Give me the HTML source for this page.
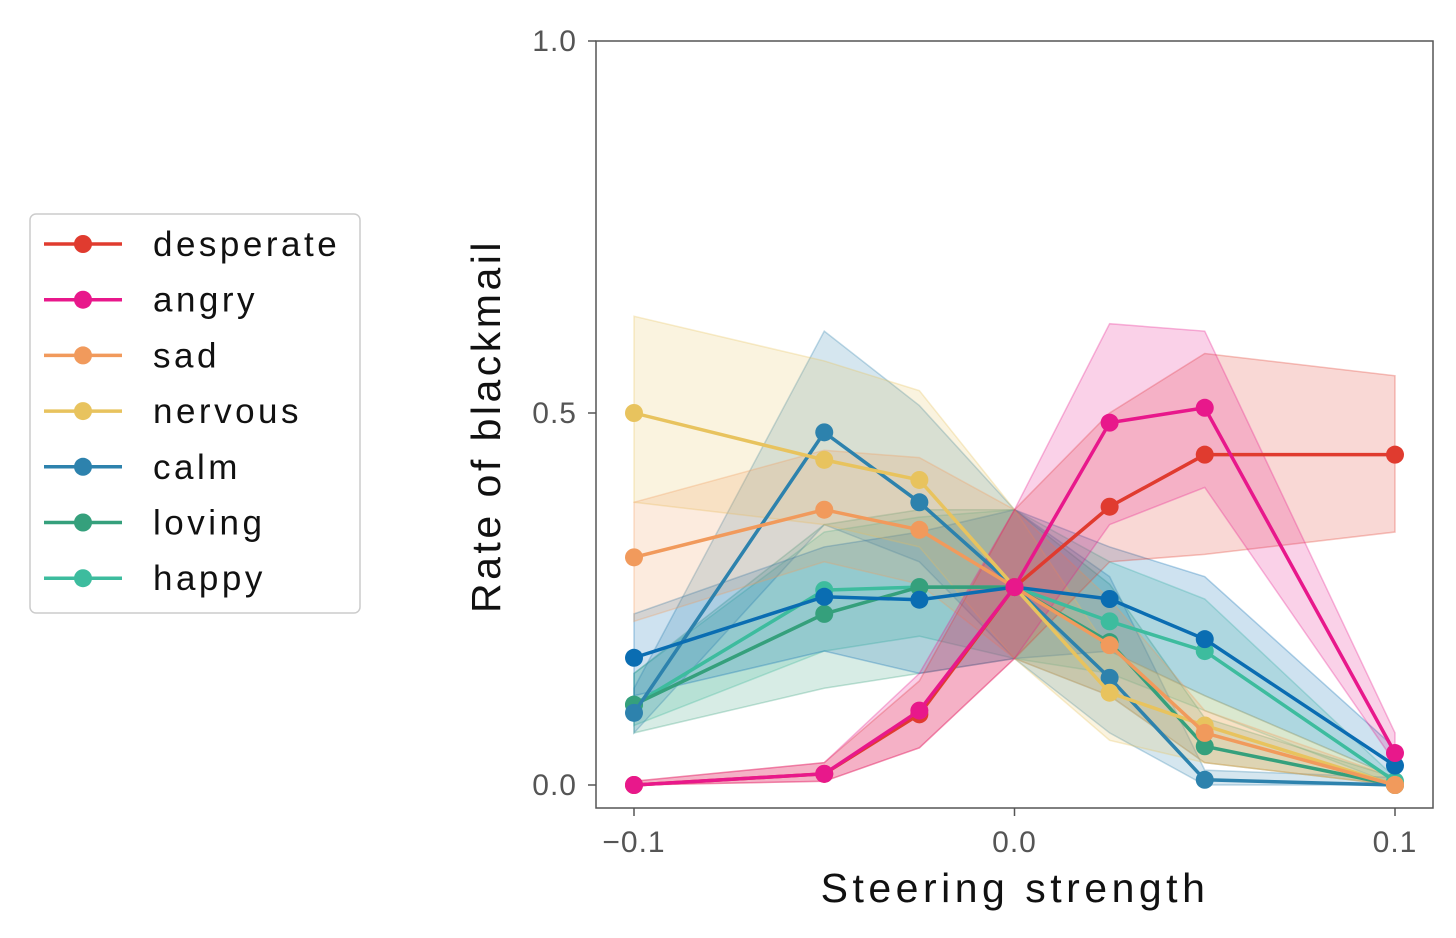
<!DOCTYPE html>
<html><head><meta charset="utf-8"><style>
body{margin:0;background:#fff;width:1456px;height:938px;overflow:hidden;font-family:"Liberation Sans",sans-serif}
svg{display:block}
</style></head><body>
<svg id="c" width="1456" height="938"></svg>
<script>
const xs=[-0.1,-0.05,-0.025,0,0.025,0.05,0.1];
const names=["happy","loving","calm","calm-2","nervous","sad","desperate","angry"];
const colors=["#3dbc9e","#35a07c","#2d82ad","#0a6db2","#e8c35e","#f19a5c","#e03b2f","#e8188b"];
const vHappy=[0.108,0.262,0.266,0.266,0.22,0.18,0.005];
const vLoving=[0.108,0.23,0.266,0.266,0.192,0.052,0];
const vCalm=[0.097,0.474,0.38,0.266,0.144,0.007,0];
const vCalm2=[0.171,0.253,0.249,0.266,0.25,0.196,0.026];
const vNervous=[0.5,0.437,0.41,0.266,0.124,0.08,0];
const vSad=[0.306,0.37,0.343,0.266,0.188,0.07,0];
const vDesperate=[0,0.015,0.095,0.266,0.374,0.444,0.444];
const vAngry=[0,0.015,0.1,0.266,0.487,0.507,0.043];
const loHappy=[0.08,0.18,0.2,0.17,0.15,0.1,0], hiHappy=[0.15,0.34,0.36,0.37,0.3,0.25,0.01];
const loLoving=[0.07,0.13,0.15,0.17,0.12,0.03,0], hiLoving=[0.15,0.35,0.37,0.37,0.27,0.09,0.01];
const loCalm=[0.07,0.35,0.3,0.17,0.07,0,0], hiCalm=[0.13,0.61,0.51,0.37,0.28,0.02,0.01];
const loCalm2=[0.12,0.18,0.15,0.17,0.18,0.12,0.01], hiCalm2=[0.23,0.32,0.34,0.37,0.32,0.28,0.05];
const loNervous=[0.38,0.35,0.32,0.17,0.06,0.03,0], hiNervous=[0.63,0.57,0.53,0.37,0.18,0.12,0.01];
const loSad=[0.22,0.3,0.27,0.17,0.12,0.03,0], hiSad=[0.38,0.45,0.44,0.37,0.25,0.1,0.01];
const loDesperate=[0,0.005,0.05,0.17,0.3,0.31,0.34], hiDesperate=[0.005,0.03,0.14,0.37,0.5,0.58,0.55];
const loAngry=[0,0.005,0.05,0.17,0.35,0.4,0.03], hiAngry=[0.005,0.03,0.15,0.37,0.62,0.61,0.07];
const xTicks=[-0.1,0,0.1], xTickLabels=["\u22120.1","0.0","0.1"];
const yTicks=[0,0.5,1], yTickLabels=["0.0","0.5","1.0"];
const legendNames=["desperate","angry","sad","nervous","calm","loving","happy"];
const legendColors=["#e03b2f","#e8188b","#f19a5c","#e8c35e","#2d82ad","#35a07c","#3dbc9e"];

const vals=[vHappy,vLoving,vCalm,vCalm2,vNervous,vSad,vDesperate,vAngry];
const los=[loHappy,loLoving,loCalm,loCalm2,loNervous,loSad,loDesperate,loAngry];
const his=[hiHappy,hiLoving,hiCalm,hiCalm2,hiNervous,hiSad,hiDesperate,hiAngry];
const X=v=>634+(v+0.1)/0.2*761;
const Y=v=>785-v*744;
const svg=document.getElementById('c');
const NS="http://www.w3.org/2000/svg";
function mk(t,a,p){const e=document.createElementNS(NS,t);for(const k in a)e.setAttribute(k,a[k]);(p||svg).appendChild(e);return e;}

vals.forEach((v,i)=>{
  const pts=xs.map((x,j)=>X(x)+","+Y(his[i][j])).concat(xs.slice().reverse().map((x,j)=>X(x)+","+Y(los[i][xs.length-1-j])));
  const p=mk('polygon',{points:pts.join(' '),fill:colors[i],'fill-opacity':0.2,stroke:colors[i],'stroke-opacity':0.3,'stroke-width':1.5});
  
  
});
vals.forEach((v,i)=>{
  const g=mk('g',{});
  
  
  mk('polyline',{points:xs.map((x,j)=>X(x)+","+Y(v[j])).join(' '),fill:'none',stroke:colors[i],'stroke-width':3.5},g);
  xs.forEach((x,j)=>{
    const c=mk('circle',{cx:X(x),cy:Y(v[j]),r:9,fill:colors[i]},g);
    
    
  });
});
const fr=mk('rect',{x:596,y:41,width:837,height:767,fill:'none',stroke:'#555','stroke-width':1.5});


xTicks.forEach((t,i)=>{
  mk('line',{x1:X(t),x2:X(t),y1:808,y2:816,stroke:'#555','stroke-width':1.5});
  const tx=mk('text',{x:X(t),y:852,'text-anchor':'middle','font-size':30,fill:'#555','letter-spacing':1});
  tx.textContent=xTickLabels[i];
  
  
});
yTicks.forEach((t,i)=>{
  mk('line',{x1:588,x2:596,y1:Y(t),y2:Y(t),stroke:'#555','stroke-width':1.5});
  const tx=mk('text',{x:577,y:Y(t)+10,'text-anchor':'end','font-size':30,fill:'#555','letter-spacing':1});
  tx.textContent=yTickLabels[i];
  
  
});
const xl=mk('text',{x:1015,y:902,'text-anchor':'middle','font-size':41,fill:'#111','letter-spacing':4.5});
xl.textContent="Steering strength";


const yl=mk('text',{x:0,y:0,'text-anchor':'middle','font-size':41,fill:'#111','letter-spacing':3.5,transform:'translate(500,426) rotate(-90)'});
yl.textContent="Rate of blackmail";


const lg=mk('g',{});


mk('rect',{x:30,y:214,width:330,height:399,rx:6,fill:'#fff',stroke:'#ccc','stroke-width':1.5},lg);
legendNames.forEach((n,i)=>{
  const y=244+i*55.7;
  const e=mk('g',{},lg);
  
  
  mk('line',{x1:44,x2:122,y1:y,y2:y,stroke:legendColors[i],'stroke-width':3.5},e);
  mk('circle',{cx:83,cy:y,r:9,fill:legendColors[i]},e);
  const t=mk('text',{x:153,y:y+12,'font-size':35,fill:'#111','letter-spacing':3.5},e);
  t.textContent=n;
});
</script>
</body></html>
